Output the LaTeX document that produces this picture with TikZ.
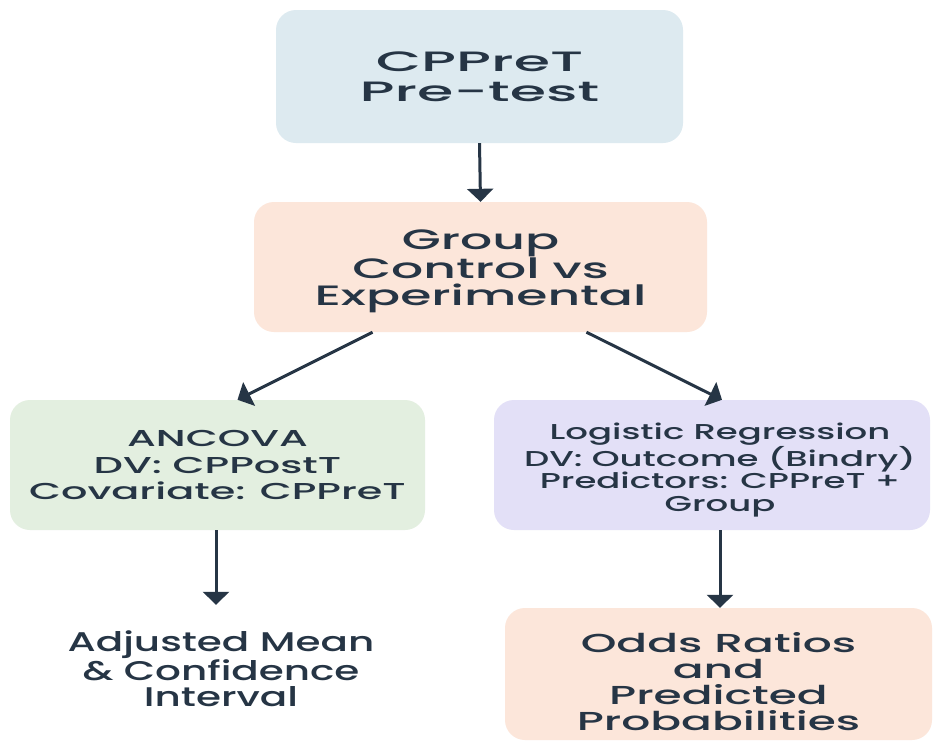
\documentclass[tikz,border=0pt]{standalone}
\usepackage{fontspec}
\setmainfont{Poppins}
\newfontfamily\fA{Poppins Medium}[FakeStretch=2.1]
\newfontfamily\fB{Poppins Medium}[FakeStretch=1.8]
\newfontfamily\fC{Poppins Medium}[FakeStretch=1.65]
\newfontfamily\fD{Poppins Medium}[FakeStretch=1.5]
\newfontfamily\fE{Poppins Medium}[FakeStretch=1.75]
\usetikzlibrary{arrows.meta}
\definecolor{ink}{HTML}{263545}
\definecolor{cTop}{HTML}{DDEAF0}
\definecolor{cPeach}{HTML}{FCE6DA}
\definecolor{cGreen}{HTML}{E3EFE0}
\definecolor{cLav}{HTML}{E3E0F7}
\begin{document}
\begin{tikzpicture}[x=1pt,y=-1pt,
  box/.style={rounded corners=20pt, inner sep=0pt, align=center, text=ink},
  arr/.style={draw=ink, line width=3pt, -{Triangle[length=13pt,width=26pt]}}]
\useasboundingbox[fill=white] (0,0) rectangle (934,742);
\node[box, fill=cTop, minimum width=407pt, minimum height=133pt,
  font=\fA\fontsize{28}{30}\selectfont] (pre) at (479.5,76.5) {CPPreT\\Pre-test};
\node[box, fill=cPeach, minimum width=453pt, minimum height=130pt,
  font=\fB\fontsize{28}{27}\selectfont] (grp) at (480.5,267) {\rule{0pt}{28pt}Group\\Control vs\\Experimental};
\node[box, fill=cGreen, minimum width=415pt, minimum height=130pt,
  font=\fB\fontsize{23}{26.5}\selectfont] (anc) at (217.5,465) {ANCOVA\\DV: CPPostT\\Covariate: CPPreT};
\node[box, fill=cLav, minimum width=436pt, minimum height=130pt] (log) at (712,465) {};
\node[box, font=\fC\fontsize{21.5}{22.5}\selectfont] (logt) at ([xshift=8pt,yshift=-5pt]log.center)
  {Logistic Regression\\DV: Outcome (Bindry)\\Predictors: CPPreT +\\Group};
\node[box, minimum width=330pt, minimum height=128pt,
  font=\fD\fontsize{27}{26.5}\selectfont] (adj) at (221,669) {Adjusted Mean\\\& Confidence\\Interval};
\node[box, fill=cPeach, minimum width=427pt, minimum height=132pt,
  font=\fE\fontsize{26}{26}\selectfont] (odds) at (718.5,674) {\rule{0pt}{35pt}Odds Ratios\\and\\Predicted\\Probabilities};
\draw[arr] (pre.south) -- (grp.north);
\draw[arr] ([xshift=-108pt]grp.south) -- ([xshift=20pt]anc.north);
\draw[arr] ([xshift=106pt]grp.south) -- ([xshift=10pt]log.north);
\draw[arr] ([xshift=-1.5pt]anc.south) -- ([xshift=-5pt]adj.north);
\draw[arr] ([xshift=8pt]log.south) -- ([xshift=1.5pt]odds.north);
\end{tikzpicture}
\end{document}
